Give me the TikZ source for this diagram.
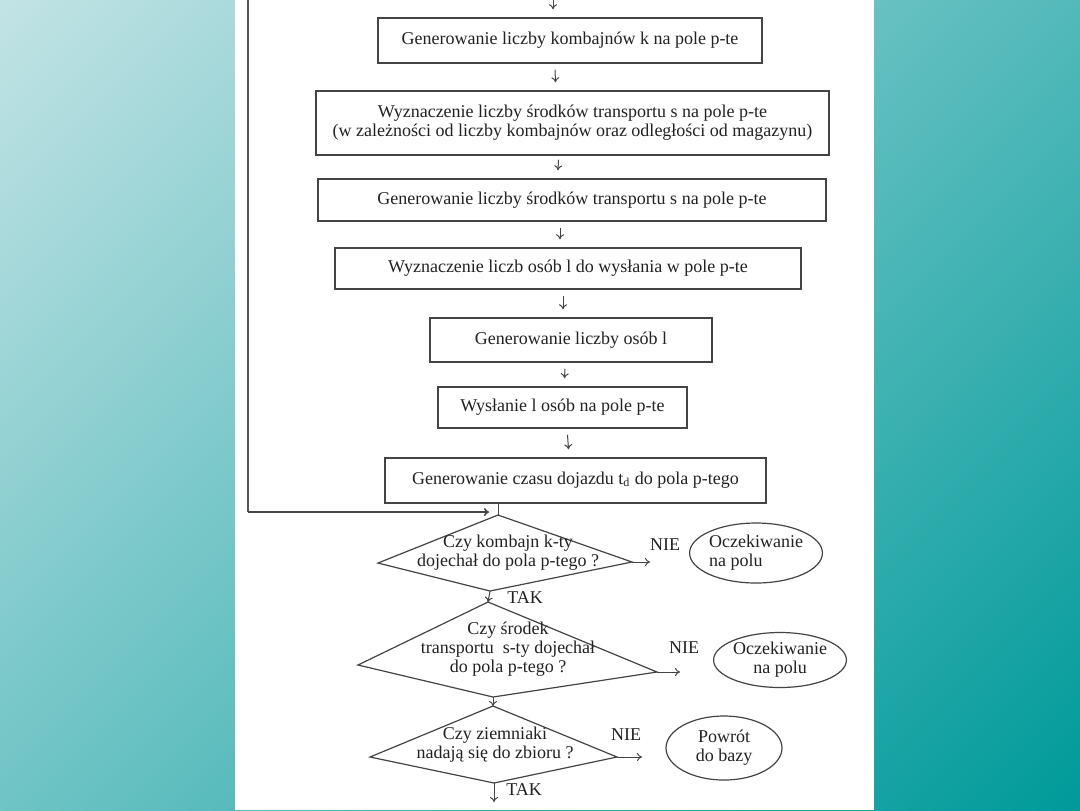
\documentclass[tikz,border=0pt]{standalone}
\usepackage{fontspec}
\setmainfont{Liberation Serif}
\usetikzlibrary{shapes.geometric,arrows.meta,calc}
\definecolor{bglight}{HTML}{C2E3E5}
\definecolor{bgdark}{HTML}{009A9A}
\definecolor{linec}{HTML}{444444}
\definecolor{txtc}{HTML}{222222}
\newcommand{\flowfont}{\fontsize{9}{9.5}\selectfont}
\begin{document}
\begin{tikzpicture}[x=0.5pt,y=-0.5pt,
  box/.style={draw=linec, line width=0.75pt, fill=white, inner sep=0pt, align=center, font=\flowfont, text=txtc},
  dia/.style={draw=linec, line width=0.6pt},
  dtext/.style={align=center, font=\flowfont, text=txtc, inner sep=0pt},
  oval/.style={ellipse, draw=linec, line width=0.6pt, inner sep=0pt, font=\flowfont, text=txtc},
  lbl/.style={font=\flowfont, text=txtc, inner sep=0pt},
  arr/.style={draw=linec, line width=0.5pt, -{To[length=2.5pt,width=4pt]}},
  loopline/.style={draw=linec!90, line width=0.8pt}
]
\useasboundingbox (0,0) rectangle (1080,810);
% background
\begin{scope}
\clip (0,0) rectangle (1080,810);
\shade[top color=bglight, bottom color=bgdark, shading angle=45] (-128,-263) rectangle (1208,1073);
\end{scope}
\fill[white] (235,0) rectangle (874,810);

% boxes
\node[box, minimum width=192pt, minimum height=22.5pt] (b1) at (570,40.5) {Generowanie liczby kombajnów k na pole p-te};
\node[box, minimum width=256.5pt, minimum height=32pt] (b2) at (572.5,123) {Wyznaczenie liczby środków transportu s na pole p-te\\(w zależności od liczby kombajnów oraz odległości od magazynu)};
\node[box, minimum width=254pt, minimum height=21pt] (b3) at (572,200) {Generowanie liczby środków transportu s na pole p-te};
\node[box, minimum width=233pt, minimum height=20.5pt] (b4) at (568,268.5) {Wyznaczenie liczb osób l do wysłania w pole p-te};
\node[box, minimum width=141pt, minimum height=22pt] (b5) at (571,340) {Generowanie liczby osób l};
\node[box, minimum width=124.5pt, minimum height=20.5pt] (b6) at (562.5,407.5) {Wysłanie l osób na pole p-te};
\node[box, minimum width=190.5pt, minimum height=22.5pt] (b7) at (575.5,480.5) {Generowanie czasu dojazdu t\textsubscript{d} do pola p-tego};

% arrows between boxes
\coordinate (top) at (553,0);
\draw[arr] (top) -- ([shift={(-17,-8)}]b1.north);
\draw[arr] ([shift={(-15,6)}]b1.south) -- ([shift={(-17,-8)}]b2.north);
\draw[arr] ([shift={(-14,4)}]b2.south) -- ([shift={(-14,-8)}]b3.north);
\draw[arr] ([shift={(-12,6)}]b3.south) -- ([shift={(-8,-8)}]b4.north);
\draw[arr] ([shift={(-5,6)}]b4.south) -- ([shift={(-8,-8)}]b5.north);
\draw[arr] ([shift={(-6,6)}]b5.south) -- ([shift={(2,-8)}]b6.north);
\draw[arr] ([shift={(5,6)}]b6.south) -- ([shift={(-7,-8)}]b7.north);

% diamonds (vertices)
\coordinate (d1t) at (498,515); \coordinate (d1r) at (632,562);
\coordinate (d1b) at (490,591); \coordinate (d1l) at (378,563);
\coordinate (d2t) at (488,602); \coordinate (d2r) at (657,672);
\coordinate (d2b) at (493,697); \coordinate (d2l) at (358,665);
\coordinate (d3t) at (493,706); \coordinate (d3r) at (617,757);
\coordinate (d3b) at (494,783); \coordinate (d3l) at (370,757);
\draw[dia] (d1t) -- (d1r) -- (d1b) -- (d1l) -- cycle;
\draw[dia] (d2t) -- (d2r) -- (d2b) -- (d2l) -- cycle;
\draw[dia] (d3t) -- (d3r) -- (d3b) -- (d3l) -- cycle;
\node[dtext] (q1) at (508,553) {Czy kombajn k-ty\\dojechał do pola p-tego ?};
\node[dtext] (q2) at (508,649) {Czy środek\\transportu\ \ s-ty dojechał\\do pola p-tego ?};
\node[dtext] (q3) at (495,745) {Czy ziemniaki\\nadają się do zbioru ?};

% loop line
\coordinate (ltop) at (248,0);
\coordinate (lcorner) at (248,512);
\coordinate (lend) at (489,512);
\draw[loopline] (ltop) -- (lcorner);
\draw[arr, line width=0.8pt] (lcorner) -- (lend);
\draw[draw=linec, line width=0.5pt] (b7.south -| d1t) -- (d1t);

% vertical flow
\draw[arr] (d1b) -- (d2t);
\draw[arr] (d2b) -- (d3t);
\coordinate (bend) at (494,802);
\draw[arr] (d3b) -- (bend);
\node[lbl, anchor=west] (tak1) at (507,598) {TAK};
\node[lbl, anchor=west] (tak2) at (506,790) {TAK};

% NIE branches
\coordinate (n1e) at (650,562);
\coordinate (n2e) at (680,672);
\coordinate (n3e) at (642,757);
\draw[arr] (d1r) -- (n1e);
\draw[arr] (d2r) -- (n2e);
\draw[arr] (d3r) -- (n3e);
\node[lbl] (nie1) at (665,545) {NIE};
\node[lbl] (nie2) at (684,648) {NIE};
\node[lbl] (nie3) at (626,735) {NIE};

% ellipses
\node[oval, minimum width=64pt, minimum height=30pt, align=left] (e1) at (756,553) {Oczekiwanie\\na polu};
\node[oval, minimum width=66pt, minimum height=27.5pt, align=center] (e2) at (780,660) {Oczekiwanie\\na polu};
\node[oval, minimum width=58pt, minimum height=32pt, align=center] (e3) at (724,748) {Powrót\\do bazy};
\end{tikzpicture}
\end{document}
